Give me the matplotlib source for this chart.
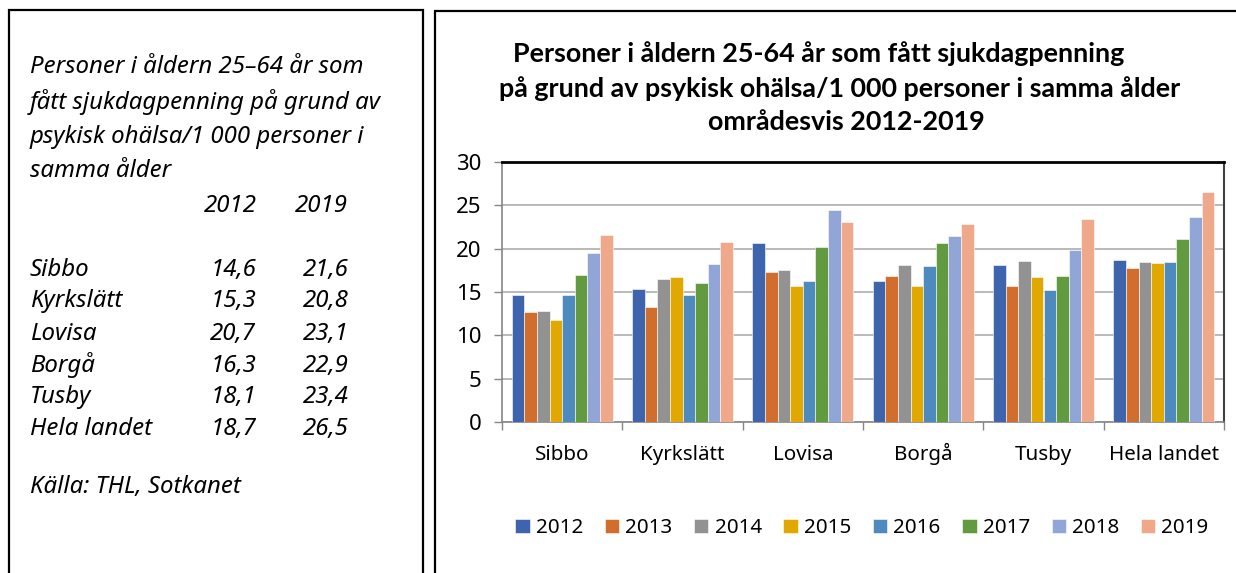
import matplotlib
matplotlib.use("Agg")
import matplotlib.pyplot as plt
import matplotlib.transforms as mtransforms
import numpy as np
from matplotlib.patches import Rectangle

categories = ["Sibbo", "Kyrkslätt", "Lovisa", "Borgå", "Tusby", "Hela landet"]
years = ["2012", "2013", "2014", "2015", "2016", "2017", "2018", "2019"]
v2012 = [14.6, 15.3, 20.7, 16.3, 18.1, 18.7]
v2013 = [12.7, 13.3, 17.3, 16.8, 15.7, 17.8]
v2014 = [12.8, 16.5, 17.5, 18.1, 18.6, 18.5]
v2015 = [11.8, 16.7, 15.7, 15.7, 16.7, 18.4]
v2016 = [14.6, 14.7, 16.3, 18.0, 15.2, 18.5]
v2017 = [17.0, 16.0, 20.2, 20.7, 16.9, 21.1]
v2018 = [19.5, 18.2, 24.5, 21.5, 19.8, 23.6]
v2019 = [21.6, 20.8, 23.1, 22.9, 23.4, 26.5]
series = [v2012, v2013, v2014, v2015, v2016, v2017, v2018, v2019]
colors = ["#3D64AD", "#D26E2D", "#929292", "#E1A900", "#4F8ABE", "#629A3F", "#91A5D6", "#F0A88A"]
yticks = [0, 5, 10, 15, 20, 25, 30]

box_title = ["Personer i åldern 25–64 år som",
             "fått sjukdagpenning på grund av",
             "psykisk ohälsa/1 000 personer i",
             "samma ålder"]
source = "Källa: THL, Sotkanet"

W, H = 1236, 573
fig = plt.figure(figsize=(W / 100, H / 100), dpi=100)
fig.patch.set_facecolor("white")
renderer = fig.canvas.get_renderer()

FONT = "Noto Sans"
BFONT = "Lato"


def fx(x):
    return x / W


def fy(y):
    return 1 - y / H


def fit_size(text, target_px, family=FONT, **kw):
    t = fig.text(0, 0, text, fontsize=10, family=family, **kw)
    w = t.get_window_extent(renderer=renderer).width
    t.remove()
    return 10 * target_px / w


# panel borders
fig.patches.append(Rectangle((fx(9), fy(600)), fx(423) - fx(9), fy(10) - fy(600),
                             transform=fig.transFigure, fill=False, edgecolor="black", linewidth=1.6))
fig.patches.append(Rectangle((fx(435), fy(600)), fx(1300) - fx(435), fy(11) - fy(600),
                             transform=fig.transFigure, fill=False, edgecolor="black", linewidth=1.6))

tfs = fit_size(box_title[0], 333, style="italic")
for i, line in enumerate(box_title):
    fig.text(fx(30), fy([73, 109, 143, 177][i]), line, fontsize=tfs, style="italic",
             family=FONT, va="baseline", ha="left")
fig.text(fx(257), fy(212), "2012", fontsize=tfs, style="italic", family=FONT, va="baseline", ha="right")
fig.text(fx(348), fy(212), "2019", fontsize=tfs, style="italic", family=FONT, va="baseline", ha="right")
row_y = [276, 307, 340, 372, 403, 435]
for i, c in enumerate(categories):
    fig.text(fx(30), fy(row_y[i]), c, fontsize=tfs, style="italic", family=FONT, va="baseline", ha="left")
    fig.text(fx(256), fy(row_y[i]), f"{v2012[i]:.1f}".replace(".", ","), fontsize=tfs,
             style="italic", family=FONT, va="baseline", ha="right")
    fig.text(fx(349), fy(row_y[i]), f"{v2019[i]:.1f}".replace(".", ","), fontsize=tfs,
             style="italic", family=FONT, va="baseline", ha="right")
fig.text(fx(30), fy(493), source, fontsize=tfs, style="italic", family=FONT, va="baseline", ha="left")

# chart title
title_lines = ["Personer i åldern 25-64 år som fått sjukdagpenning",
               "på grund av psykisk ohälsa/1 000 personer i samma ålder",
               "områdesvis 2012-2019"]
title_x = [819, 840, 846]
title_y = [62, 97, 130]
hfs = fit_size(title_lines[1], 684, family=BFONT, fontweight="bold")
for t, x, y in zip(title_lines, title_x, title_y):
    fig.text(fx(x), fy(y), t, fontsize=hfs, fontweight="bold", family=BFONT,
             ha="center", va="baseline")

afs = fit_size("Kyrkslätt", 84)

ax = fig.add_axes([fx(502), fy(422), fx(1224) - fx(502), fy(162) - fy(422)])
x = np.arange(len(categories))
bw = 0.105
n = len(series)
for k, (vals, col, yr) in enumerate(zip(series, colors, years)):
    ax.bar(x + (k - (n - 1) / 2) * bw, vals, width=bw, color=col, label=yr,
           edgecolor="white", linewidth=0.4, zorder=3)

ax.set_xlim(-0.5, len(categories) - 0.5)
ax.set_ylim(0, 30)
ax.set_yticks(yticks)
ax.yaxis.grid(True, color="#A6A6A6", linewidth=1.1, zorder=0)
ax.set_axisbelow(True)
ax.set_xticks(np.arange(-0.5, len(categories), 1.0))
ax.set_xticklabels([])
blend = mtransforms.blended_transform_factory(ax.transData, fig.transFigure)
for xi, c in zip(x, categories):
    ax.text(xi, fy(460), c, transform=blend, ha="center", va="baseline",
            fontsize=afs, family=FONT, clip_on=False)
ax.tick_params(axis="x", which="major", length=5.5, color="#868686", width=1)
ax.tick_params(axis="y", length=5.8, color="#868686", width=1, labelsize=afs * 1.08, pad=9)
for lab in ax.get_yticklabels():
    lab.set_family(FONT)
for s in ["left", "bottom"]:
    ax.spines[s].set_color("#868686")
    ax.spines[s].set_linewidth(1.2)
ax.spines["top"].set_color("black")
ax.spines["top"].set_linewidth(2.0)
ax.spines["right"].set_color("#404040")
ax.spines["right"].set_linewidth(1.5)

handles, labels = ax.get_legend_handles_labels()
fig.legend(handles, labels, loc="center", bbox_to_anchor=(fx(862), fy(528)), ncol=8,
           frameon=False, prop={"family": FONT, "size": afs},
           handlelength=0.7, handleheight=0.7, handletextpad=0.3, columnspacing=1.05,
           borderaxespad=0)

fig.savefig("out.png", dpi=100, facecolor="white")
